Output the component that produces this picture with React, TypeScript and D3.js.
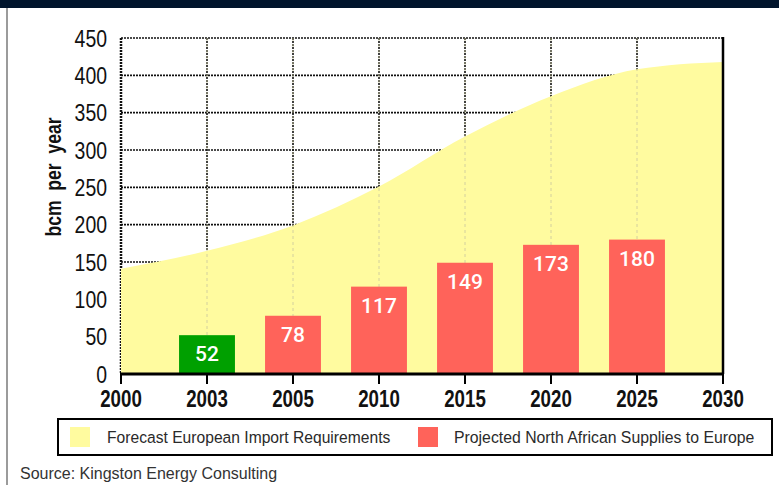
import * as d3 from "d3";

// category labels along the x axis
const years = ["2000", "2003", "2005", "2010", "2015", "2020", "2025", "2030"];
// forecast European import requirements (area)
const importReq = [141, 165, 199, 251, 318, 372, 408, 418];
// projected North African supplies (bars)
const barYears = ["2003", "2005", "2010", "2015", "2020", "2025"];
const supplies = [52, 78, 117, 149, 173, 180];
const yTicks = [0, 50, 100, 150, 200, 250, 300, 350, 400, 450];

const W = 779;
const H = 485;
const margin = { top: 38, right: 56, bottom: 111, left: 121 };

const sans = "'Liberation Sans', Arial, sans-serif";

// text squeezed horizontally to mimic the condensed face of the original
function CText({ x, y, sx = 0.8, rotate = 0, anchor = "start", size, weight = "normal", fill = "#111", wordSpacing = 0, children }: any) {
  return (
    <text
      transform={`translate(${x},${y}) rotate(${rotate}) scale(${sx},1)`}
      textAnchor={anchor}
      fontFamily={sans}
      fontSize={size}
      fontWeight={weight}
      fill={fill}
      wordSpacing={wordSpacing}
    >
      {children}
    </text>
  );
}

export default function App() {
  const x = d3
    .scalePoint<string>()
    .domain(years)
    .range([margin.left, W - margin.right]);
  const y = d3
    .scaleLinear()
    .domain([0, 450])
    .range([H - margin.bottom, margin.top]);

  const step = x.step();
  const barW = step * 0.65;

  const area = d3
    .area<number>()
    .x((_, i) => x(years[i])!)
    .y0(y(0))
    .y1((d) => y(d))
    .curve(d3.curveMonotoneX);

  const x0 = margin.left;
  const x1 = W - margin.right;
  const yBase = y(0);

  return (
    <svg
      width={W}
      height={H}
      style={{ position: "absolute", left: 0, top: 0, background: "#fff" }}
    >
      {/* top banner + left rule */}
      <rect x={0} y={0} width={W} height={8} fill="#00142c" />
      <line x1={7} x2={7} y1={8} y2={H} stroke="#7a7a7a" strokeWidth={1.5} />

      {/* dark dotted grid */}
      {yTicks.slice(1).map((t) => (
        <line
          key={"h" + t}
          x1={x0}
          x2={x1}
          y1={y(t)}
          y2={y(t)}
          stroke="#111"
          strokeWidth={1.6}
          strokeDasharray="2,1"
        />
      ))}
      {years.slice(1, -1).map((yr) => (
        <line
          key={"v" + yr}
          x1={x(yr)}
          x2={x(yr)}
          y1={y(450)}
          y2={yBase}
          stroke="#111"
          strokeWidth={1.6}
          strokeDasharray="2,1"
        />
      ))}
      <line x1={x0} x2={x0} y1={y(450)} y2={yBase} stroke="#111" strokeWidth={2.5} strokeDasharray="2,1" />

      {/* area */}
      <path d={area(importReq) ?? ""} fill="#fffb9f" />

      {/* faint grid over area */}
      {years.slice(1, -1).map((yr) => (
        <line
          key={"f" + yr}
          x1={x(yr)}
          x2={x(yr)}
          y1={y(450)}
          y2={yBase}
          stroke="#c8c6a0"
          strokeWidth={0.8}
          strokeDasharray="3,3"
        />
      ))}

      {/* bars */}
      {supplies.map((v, i) => {
        const cx = x(barYears[i])!;
        return (
          <g key={barYears[i]}>
            <rect
              x={cx - barW / 2}
              y={y(v)}
              width={barW}
              height={yBase - y(v)}
              fill={i === 0 ? "#00a000" : "#ff635a"}
            />
            <text
              x={cx}
              y={y(v) + 26}
              textAnchor="middle"
              fill="#fff"
              fontFamily="Roboto, sans-serif"
              fontWeight={500}
              fontSize={21}
            >
              {v}
            </text>
          </g>
        );
      })}

      {/* frame */}
      <line x1={x1} x2={x1} y1={y(450) - 1} y2={yBase} stroke="#000" strokeWidth={2.5} />
      <line x1={x0 - 1} x2={x1 + 1} y1={yBase} y2={yBase} stroke="#000" strokeWidth={3} />

      {/* x axis ticks + labels */}
      {years.map((yr) => (
        <g key={"xt" + yr}>
          <line x1={x(yr)} x2={x(yr)} y1={yBase} y2={yBase + 10} stroke="#000" strokeWidth={2} />
          <CText x={x(yr)} y={yBase + 33} sx={0.78} anchor="middle" size={24} weight="bold">
            {yr}
          </CText>
        </g>
      ))}

      {/* y axis labels */}
      {yTicks.map((t) => (
        <CText key={"yt" + t} x={107} y={y(t) + 8.5} sx={0.81} anchor="end" size={24}>
          {t}
        </CText>
      ))}
      <CText
        x={61}
        y={177}
        rotate={-90}
        sx={0.8}
        anchor="middle"
        size={22}
        weight="bold"
        wordSpacing={6}
      >
        bcm per year
      </CText>

      {/* legend */}
      <rect x={58} y={419} width={714} height={36} fill="#fff" stroke="#000" strokeWidth={2} />
      <rect x={70} y={427} width={20} height={20} fill="#fffb9f" />
      <CText x={107} y={443} sx={0.92} size={17} fill="#2a2a2a">
        Forecast European Import Requirements
      </CText>
      <rect x={418} y={427} width={20} height={20} fill="#ff635a" />
      <CText x={454} y={443} sx={0.93} size={17} fill="#2a2a2a">
        Projected North African Supplies to Europe
      </CText>

      {/* source */}
      <CText x={20} y={479} sx={1} size={16} fill="#333">
        Source: Kingston Energy Consulting
      </CText>
    </svg>
  );
}
